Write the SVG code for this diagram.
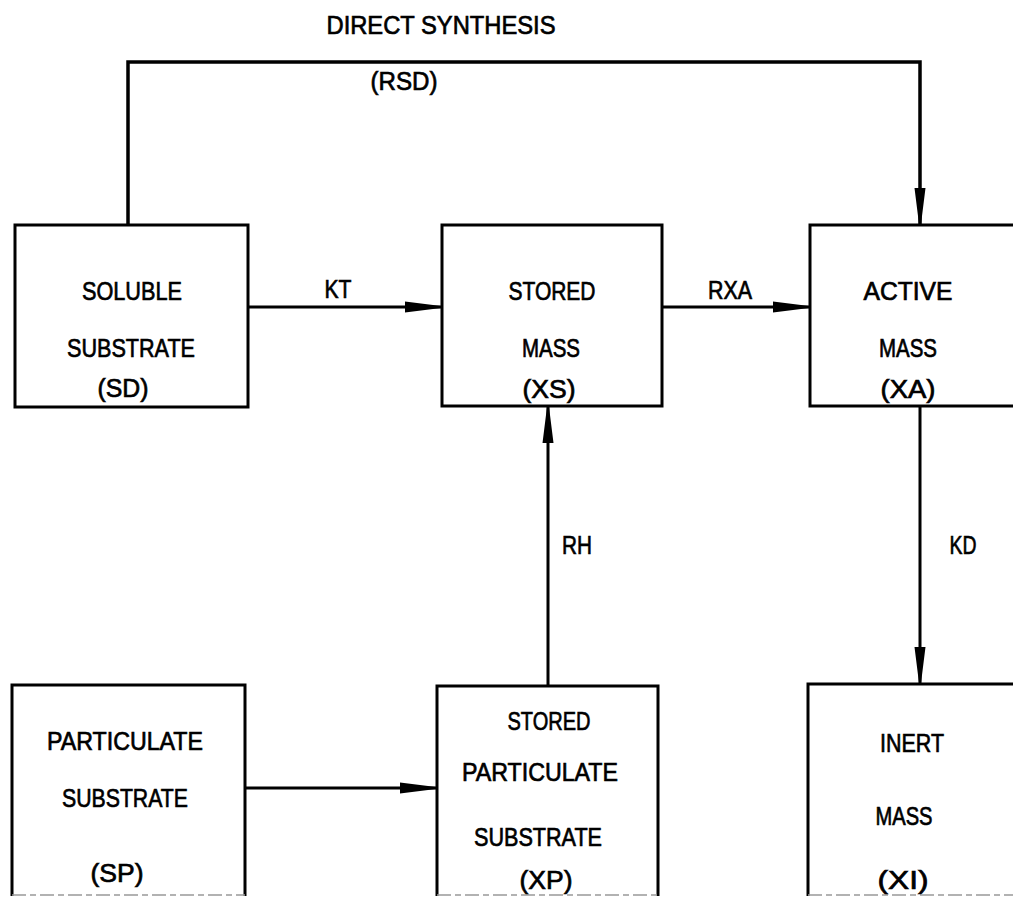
<svg xmlns="http://www.w3.org/2000/svg" width="1013" height="897" viewBox="0 0 1013 897">
<style>
text{font-family:"Liberation Sans",Arial,sans-serif;font-size:26px;fill:#000;stroke:#000;stroke-width:0.7;text-anchor:middle}
.box{fill:none;stroke:#000;stroke-width:3;stroke-linejoin:miter}
.edge{fill:none;stroke:#000;stroke-width:3}
.cut{fill:none;stroke:#999;stroke-width:1.5;stroke-dasharray:14 4 6 4}
</style>
<defs>
<marker id="ah" markerUnits="userSpaceOnUse" markerWidth="38" markerHeight="12" refX="36" refY="6" orient="auto" viewBox="0 0 38 12">
<path d="M0,0.5 L36,5 L36,7 L0,11.5 Z" fill="#000"/>
</marker>
</defs>
<rect width="1013" height="897" fill="#fff"/>
<g id="connectors">
<path class="edge" style="stroke-width:3.5" d="M128,225 V62 H920 V224" marker-end="url(#ah)"/>
<path class="edge" d="M248,307 H441" marker-end="url(#ah)"/>
<path class="edge" d="M662,307 H809" marker-end="url(#ah)"/>
<path class="edge" d="M548,686 V407" marker-end="url(#ah)"/>
<path class="edge" d="M920,406 V683" marker-end="url(#ah)"/>
<path class="edge" d="M245,788 H436" marker-end="url(#ah)"/>
<text x="441" y="34" textLength="229" lengthAdjust="spacingAndGlyphs">DIRECT SYNTHESIS</text>
<text x="404" y="90" textLength="67" lengthAdjust="spacingAndGlyphs">(RSD)</text>
<text x="338" y="298" textLength="27" lengthAdjust="spacingAndGlyphs">KT</text>
<text x="730" y="299" textLength="44" lengthAdjust="spacingAndGlyphs">RXA</text>
<text x="577" y="554" textLength="30" lengthAdjust="spacingAndGlyphs">RH</text>
<text x="963" y="554" textLength="27" lengthAdjust="spacingAndGlyphs">KD</text>
</g>
<g id="soluble-substrate">
<rect class="box" x="15" y="225" width="233" height="182"/>
<text x="132" y="300" textLength="100" lengthAdjust="spacingAndGlyphs">SOLUBLE</text>
<text x="131" y="357" textLength="128" lengthAdjust="spacingAndGlyphs">SUBSTRATE</text>
<text x="123" y="397" textLength="51" lengthAdjust="spacingAndGlyphs">(SD)</text>
</g>
<g id="stored-mass">
<rect class="box" x="442" y="225" width="220" height="181"/>
<text x="552" y="300" textLength="87" lengthAdjust="spacingAndGlyphs">STORED</text>
<text x="551" y="357" textLength="58" lengthAdjust="spacingAndGlyphs">MASS</text>
<text x="549" y="398" textLength="53" lengthAdjust="spacingAndGlyphs">(XS)</text>
</g>
<g id="active-mass">
<rect class="box" x="810" y="225" width="230" height="181"/>
<text x="908" y="300" textLength="89" lengthAdjust="spacingAndGlyphs">ACTIVE</text>
<text x="908" y="357" textLength="58" lengthAdjust="spacingAndGlyphs">MASS</text>
<text x="908" y="398" textLength="55" lengthAdjust="spacingAndGlyphs">(XA)</text>
</g>
<g id="particulate-substrate">
<path class="box" d="M12,896 V685 H245 V896"/>
<path class="cut" d="M12,895 H245"/>
<text x="125" y="750" textLength="156" lengthAdjust="spacingAndGlyphs">PARTICULATE</text>
<text x="125" y="807" textLength="126" lengthAdjust="spacingAndGlyphs">SUBSTRATE</text>
<text x="117" y="882" textLength="53" lengthAdjust="spacingAndGlyphs">(SP)</text>
</g>
<g id="stored-particulate-substrate">
<path class="box" d="M437,896 V686 H658 V896"/>
<path class="cut" d="M437,895 H658"/>
<text x="549" y="730" textLength="83" lengthAdjust="spacingAndGlyphs">STORED</text>
<text x="540" y="781" textLength="156" lengthAdjust="spacingAndGlyphs">PARTICULATE</text>
<text x="538" y="846" textLength="128" lengthAdjust="spacingAndGlyphs">SUBSTRATE</text>
<text x="546" y="889" textLength="53" lengthAdjust="spacingAndGlyphs">(XP)</text>
</g>
<g id="inert-mass">
<path class="box" d="M808,896 V684 H1040"/>
<path class="cut" d="M808,895 H1013"/>
<text x="912" y="752" textLength="64" lengthAdjust="spacingAndGlyphs">INERT</text>
<text x="904" y="825" textLength="57" lengthAdjust="spacingAndGlyphs">MASS</text>
<text x="903" y="889" textLength="51" lengthAdjust="spacingAndGlyphs">(XI)</text>
</g>
</svg>
